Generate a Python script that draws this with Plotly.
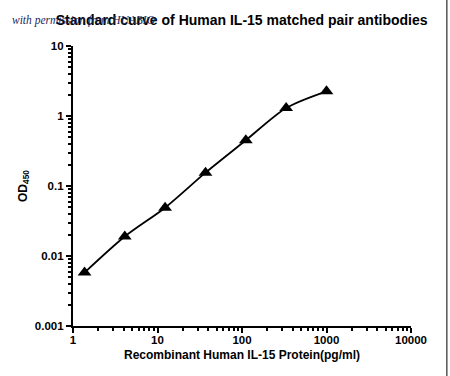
import plotly.graph_objects as go

conc = [1.37, 4.1, 12.3, 37, 111, 333, 1000]
od = [0.0058, 0.019, 0.049, 0.155, 0.45, 1.3, 2.25]

x_ticks = [1, 10, 100, 1000, 10000]
x_labels = ["1", "10", "100", "1000", "10000"]
y_ticks = [0.001, 0.01, 0.1, 1, 10]
y_labels = ["0.001", "0.01", "0.1", "1", "10"]

FONT = "Liberation Sans, Arial, sans-serif"

fig = go.Figure()
fig.add_trace(go.Scatter(
    x=conc, y=od, mode="lines+markers",
    line=dict(color="black", width=1.8, shape="spline", smoothing=0.8),
    marker=dict(symbol="triangle-up", size=12, color="black"),
    showlegend=False,
))

axis_common = dict(
    type="log", showgrid=False, zeroline=False,
    showline=True, linecolor="black", linewidth=2.2,
    ticks="outside", ticklen=5, tickwidth=2, tickcolor="black",
    tickfont=dict(family=FONT, size=11.5, color="black", weight="bold"),
    minor=dict(ticks="outside", ticklen=3, tickwidth=1.5, tickcolor="black", dtick="D1", showgrid=False),
)

fig.update_layout(
    width=450, height=376,
    margin=dict(l=73, r=39, t=46, b=50),
    paper_bgcolor="white", plot_bgcolor="white",
    xaxis=dict(**axis_common, range=[0, 4], tickvals=x_ticks, ticktext=x_labels,
               ticklabelstandoff=-3,
               title=dict(text="Recombinant Human IL-15 Protein(pg/ml)", standoff=6,
                          font=dict(family=FONT, size=12, color="black", weight="bold"))),
    yaxis=dict(**axis_common, range=[-3, 1], tickvals=y_ticks, ticktext=y_labels,
               title=dict(text="OD<sub>450</sub>", standoff=5,
                          font=dict(family=FONT, size=12, color="black", weight="bold"))),
    title=dict(text="Standard curve of Human IL-15 matched pair antibodies",
               x=0.537, xanchor="center", y=0.947, yanchor="middle",
               font=dict(family=FONT, size=14, color="black", weight="bold")),
)

fig.add_annotation(
    text="with permission from HUABIO", xref="paper", yref="paper",
    x=-0.185, y=1.09, xanchor="left", yanchor="middle", showarrow=False,
    font=dict(family="Liberation Serif, serif", size=11.5, color="#1c2a5e", style="italic"),
)

fig.add_shape(type="line", xref="paper", yref="paper", x0=1.106, x1=1.106, y0=-0.2, y1=1.2,
              line=dict(color="#555555", width=1.5))

fig.write_html("out.html", config={"displayModeBar": False},
               post_script="document.body.style.margin='0';document.body.style.padding='0';")
